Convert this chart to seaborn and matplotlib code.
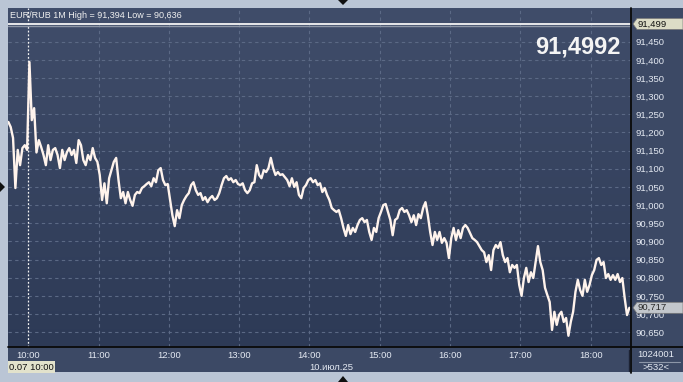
import numpy as np
import pandas as pd
import matplotlib
matplotlib.use("Agg")
import matplotlib.pyplot as plt
import seaborn as sns
from matplotlib.colors import LinearSegmentedColormap
from matplotlib.patches import Polygon, Rectangle
from matplotlib.lines import Line2D

# ---------------- data ----------------
symbol_title = "EUR/RUB 1M High = 91,394 Low = 90,636"
big_price = "91,4992"
ask_price = 91.499
last_price = 90.717
start_minute = 9 * 60 + 43      # first sample 09:43
step_minutes = 2

prices = [
    91.229, 91.215, 91.185, 91.047, 91.152, 91.110, 91.157, 91.165, 91.152, 91.394,
    91.234, 91.267, 91.145, 91.179, 91.160, 91.138, 91.110, 91.165, 91.124, 91.152,
    91.157, 91.138, 91.102, 91.152, 91.124, 91.146, 91.157, 91.138, 91.152, 91.116,
    91.179, 91.165, 91.124, 91.110, 91.138, 91.124, 91.157, 91.130, 91.119, 91.083,
    91.014, 91.060, 91.005, 91.074, 91.096, 91.119, 91.130, 91.069, 91.019, 91.036,
    91.005, 91.036, 91.014, 90.998, 91.028, 91.036, 91.033, 91.047, 91.052, 91.058,
    91.063, 91.052, 91.074, 91.063, 91.096, 91.102, 91.069, 91.055, 91.058, 91.014,
    90.972, 90.942, 90.986, 90.964, 91.000, 91.014, 91.025, 91.033, 91.055, 91.063,
    91.041, 91.028, 91.033, 91.014, 91.022, 91.008, 91.019, 91.025, 91.014, 91.019,
    91.033, 91.055, 91.074, 91.080, 91.069, 91.074, 91.063, 91.069, 91.058, 91.055,
    91.060, 91.041, 91.033, 91.041, 91.060, 91.063, 91.110, 91.083, 91.074, 91.096,
    91.091, 91.102, 91.130, 91.102, 91.083, 91.091, 91.083, 91.085, 91.077, 91.069,
    91.052, 91.074, 91.050, 91.063, 91.028, 91.019, 91.047, 91.055, 91.069, 91.074,
    91.063, 91.069, 91.055, 91.060, 91.036, 91.047, 91.028, 91.014, 90.992, 90.986,
    90.981, 90.986, 90.964, 90.937, 90.915, 90.945, 90.920, 90.937, 90.926, 90.945,
    90.959, 90.964, 90.953, 90.959, 90.926, 90.904, 90.937, 90.926, 90.964, 90.981,
    91.000, 91.003, 90.981, 90.959, 90.917, 90.959, 90.964, 90.986, 90.992, 90.981,
    90.986, 90.972, 90.953, 90.972, 90.945, 90.975, 90.964, 90.992, 91.008, 90.972,
    90.926, 90.890, 90.926, 90.904, 90.926, 90.896, 90.909, 90.896, 90.854, 90.909,
    90.937, 90.904, 90.931, 90.909, 90.937, 90.945, 90.937, 90.923, 90.909, 90.904,
    90.898, 90.887, 90.876, 90.870, 90.843, 90.862, 90.821, 90.876, 90.890, 90.882,
    90.898, 90.862, 90.843, 90.854, 90.815, 90.835, 90.827, 90.835, 90.780, 90.750,
    90.799, 90.827, 90.788, 90.815, 90.799, 90.843, 90.887, 90.843, 90.821, 90.772,
    90.752, 90.733, 90.656, 90.706, 90.670, 90.697, 90.706, 90.678, 90.689, 90.640,
    90.678, 90.706, 90.761, 90.794, 90.766, 90.750, 90.794, 90.761, 90.780, 90.807,
    90.821, 90.849, 90.854, 90.835, 90.843, 90.799, 90.810, 90.794, 90.807, 90.794,
    90.810, 90.788, 90.799, 90.744, 90.697, 90.717,
]
hour_ticks = [600, 660, 720, 780, 840, 900, 960, 1020, 1080]
hour_labels = ["10:00", "11:00", "12:00", "13:00", "14:00", "15:00", "16:00", "17:00", "18:00"]
price_ticks = [91.45, 91.40, 91.35, 91.30, 91.25, 91.20, 91.15, 91.10, 91.05,
               91.00, 90.95, 90.90, 90.85, 90.80, 90.75, 90.70, 90.65]
date_label = "10.июл.25"
cursor_label = "0.07 10:00"
volume_label = "1024001"
bars_label = ">532<"

minutes = [start_minute + step_minutes * i for i in range(len(prices))]
df = pd.DataFrame({"minute": minutes, "price": prices})

# ---------------- style ----------------
sns.set_theme(style="dark")
plt.rcParams["font.family"] = ["Liberation Sans", "DejaVu Sans"]

W, H = 683, 382
fig = plt.figure(figsize=(W / 100, H / 100), dpi=100)
frame_col = "#bac5d5"
panel_col = "#3c4965"
fig.patch.set_facecolor(frame_col)


def fx(x):
    return x / W


def fy(y):
    return 1 - y / H


# dark panel behind axes (right and bottom scales)
fig.patches.append(Rectangle((fx(8), fy(372)), fx(683) - fx(8), fy(8) - fy(372),
                             transform=fig.transFigure, facecolor=panel_col,
                             edgecolor="none", zorder=-5))

ax = fig.add_axes([fx(8), fy(347), (631 - 8) / W, (347 - 8) / H])
ax.set_zorder(1)
xlim = (582.7, 1114.4)
ylim = (90.609, 91.543)
ax.set_xlim(*xlim)
ax.set_ylim(*ylim)

grad = LinearSegmentedColormap.from_list("bg", ["#404d6a", "#2d3a56"])
ax.imshow(np.linspace(0, 1, 256).reshape(-1, 1), cmap=grad, aspect="auto",
          extent=[xlim[0], xlim[1], ylim[0], ylim[1]], origin="upper", zorder=0)

# grid
for t in hour_ticks[1:]:
    ax.axvline(t, color="#5b6985", lw=0.8, ls=(0, (3, 3)), zorder=1)
for p in price_ticks:
    ax.axhline(p, color="#5b6985", lw=0.8, ls=(0, (3, 3)), zorder=1)
ax.axvline(hour_ticks[0], color="#f2f2f2", lw=0.9, ls=(0, (1.5, 1.5)), zorder=2)

# ask line
ax.axhline(ask_price, color="#f4f4f4", lw=1.3, zorder=3)
ax.axhline(ask_price - 0.005, color="#8d96a6", lw=1.0, zorder=3)

sns.lineplot(data=df, x="minute", y="price", ax=ax, color="#fff3ec", lw=1.7,
             zorder=4, legend=False)

ax.set_xlabel("")
ax.set_ylabel("")
ax.set_xticks(hour_ticks)
ax.set_xticklabels(hour_labels)
ax.set_yticks(price_ticks)
ax.set_yticklabels([f"{p:.3f}".replace(".", ",") for p in price_ticks])
ax.yaxis.tick_right()
ax.tick_params(axis="y", length=0, pad=3, labelsize=6.8, labelcolor="#e4e9f2")
ax.tick_params(axis="x", length=0, pad=3, labelsize=6.8, labelcolor="#e4e9f2")
ax.grid(False)
for s in ax.spines.values():
    s.set_visible(False)

# big price text & title
ax.text(0.915, 0.885, big_price, transform=ax.transAxes, ha="center", va="center",
        fontsize=17, fontweight="bold", color="#f4f4f4", zorder=6)
fig.text(fx(10), fy(15), symbol_title, ha="left", va="center", fontsize=6.5,
         color="#f0f0f0", zorder=10)

# separator lines
fig.add_artist(Line2D([fx(8), fx(683)], [fy(347), fy(347)], color="#0a0a0a", lw=1.3,
                      transform=fig.transFigure, zorder=8))
fig.add_artist(Line2D([fx(631), fx(631)], [fy(8), fy(373)], color="#0a0a0a", lw=1.3,
                      transform=fig.transFigure, zorder=8))
fig.add_artist(Line2D([fx(628.5), fx(628.5)], [fy(350), fy(371)], color="#1c2233", lw=1.0,
                      transform=fig.transFigure, zorder=8))


def pt_y(p):
    return fy(8 + (ylim[1] - p) / (ylim[1] - ylim[0]) * 339)


# price label boxes on right scale
def price_box(p, text, face, tcol):
    yc = pt_y(p)
    hh = 5.5 / H
    poly = Polygon([(fx(633), yc), (fx(637), yc + hh), (fx(683), yc + hh),
                    (fx(683), yc - hh), (fx(637), yc - hh)], closed=True,
                   transform=fig.transFigure, facecolor=face, edgecolor="#777", lw=0.5,
                   zorder=12)
    fig.patches.append(poly)
    fig.text(fx(637), yc, text, ha="left", va="center", fontsize=6.8, color=tcol, zorder=13)


price_box(ask_price, "91,499", "#dcdcc6", "#111111")
price_box(last_price, "90,717", "#c3c7cc", "#2a2a2a")

# bottom labels
fig.text(fx(331), fy(368), date_label, ha="center", va="center", fontsize=6.8,
         color="#e4e9f2", zorder=10)
fig.patches.append(Rectangle((fx(8), fy(373)), fx(55) - fx(8), fy(361) - fy(373),
                             transform=fig.transFigure, facecolor="#e2e2cc",
                             edgecolor="none", zorder=12))
fig.text(fx(9), fy(367), cursor_label, ha="left", va="center", fontsize=6.8,
         color="#111111", zorder=13)
fig.text(fx(656), fy(354.5), volume_label, ha="center", va="center", fontsize=6.8,
         color="#e4e9f2", zorder=10)
fig.add_artist(Line2D([fx(639), fx(680)], [fy(362), fy(362)], color="#8c96a8", lw=0.8,
                      transform=fig.transFigure, zorder=10))
fig.text(fx(656), fy(368), bars_label, ha="center", va="center", fontsize=6.8,
         color="#e4e9f2", zorder=10)

# small frame markers
for pts in ([(338, 0), (348, 0), (343, 5)], [(338, 382), (348, 382), (343, 376)],
            [(0, 182), (0, 192), (5, 187)]):
    fig.patches.append(Polygon([(fx(a), fy(b)) for a, b in pts], closed=True,
                               transform=fig.transFigure, facecolor="#101010",
                               edgecolor="none", zorder=12))

fig.savefig("out.png", dpi=100, facecolor=fig.get_facecolor())
